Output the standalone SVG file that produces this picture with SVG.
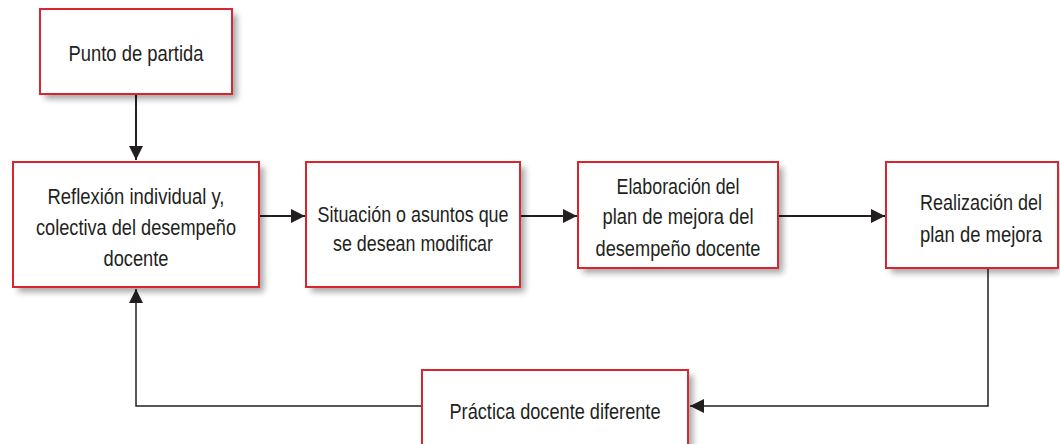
<svg xmlns="http://www.w3.org/2000/svg" width="1060" height="444" viewBox="0 0 1060 444">
<style>
.box{fill:#fff;stroke:#d9262e;stroke-width:2}
.sh{fill:#000;opacity:0.35;filter:url(#blur)}
.t{font-family:"Liberation Sans",Arial,sans-serif;font-size:22px;fill:#231f20;text-anchor:middle}
.ln{fill:none;stroke:#231f20;stroke-width:2}
.thin{fill:none;stroke:#231f20;stroke-width:1.5}
</style>
<defs>
<filter id="blur" x="-10%" y="-10%" width="130%" height="130%"><feGaussianBlur stdDeviation="3"/></filter>
<marker id="ah" viewBox="0 0 10 10" refX="10" refY="5" markerWidth="18" markerHeight="14" markerUnits="userSpaceOnUse" orient="auto"><path d="M0,0L10,5L0,10z" fill="#231f20"/></marker>
</defs>
<g id="connectors">
<path class="ln" d="M136,94V160" marker-end="url(#ah)"/>
<path class="ln" d="M260,216H305" marker-end="url(#ah)"/>
<path class="ln" d="M521,216H577" marker-end="url(#ah)"/>
<path class="ln" d="M779,216H885" marker-end="url(#ah)"/>
<path class="thin" d="M988,268V406H690" marker-end="url(#ah)"/>
<path class="thin" d="M422,406H136V289" marker-end="url(#ah)"/>
</g>
<g id="n1"><rect class="sh" x="45" y="14" width="192" height="85"/><rect class="box" x="40" y="9" width="192" height="85"/><text class="t" x="136" y="61" textLength="135" lengthAdjust="spacingAndGlyphs">Punto de partida</text></g>
<g id="n2"><rect class="sh" x="18" y="167" width="246" height="125"/><rect class="box" x="13" y="162" width="246" height="125"/><text class="t" x="136" y="204" textLength="177" lengthAdjust="spacingAndGlyphs">Reflexión individual y,</text><text class="t" x="136" y="235" textLength="200" lengthAdjust="spacingAndGlyphs">colectiva del desempeño</text><text class="t" x="136" y="266" textLength="65" lengthAdjust="spacingAndGlyphs">docente</text></g>
<g id="n3"><rect class="sh" x="311" y="167" width="214" height="125"/><rect class="box" x="306" y="162" width="214" height="125"/><text class="t" x="413" y="222" textLength="191" lengthAdjust="spacingAndGlyphs">Situación o asuntos que</text><text class="t" x="413" y="251" textLength="160" lengthAdjust="spacingAndGlyphs">se desean modificar</text></g>
<g id="n4"><rect class="sh" x="583" y="167" width="200" height="106"/><rect class="box" x="578" y="162" width="200" height="106"/><text class="t" x="678" y="194" textLength="123" lengthAdjust="spacingAndGlyphs">Elaboración del</text><text class="t" x="678" y="224" textLength="151" lengthAdjust="spacingAndGlyphs">plan de mejora del</text><text class="t" x="678" y="256" textLength="165" lengthAdjust="spacingAndGlyphs">desempeño docente</text></g>
<g id="n5"><rect class="sh" x="891" y="167" width="168" height="106"/><rect class="box" x="886" y="162" width="172" height="106"/><text class="t" x="981" y="210" textLength="122" lengthAdjust="spacingAndGlyphs">Realización del</text><text class="t" x="981" y="242" textLength="122" lengthAdjust="spacingAndGlyphs">plan de mejora</text></g>
<g id="n6"><rect class="sh" x="427" y="375" width="266" height="80"/><rect class="box" x="422" y="370" width="266" height="80"/><text class="t" x="555" y="419" textLength="211" lengthAdjust="spacingAndGlyphs">Práctica docente diferente</text></g>
</svg>
